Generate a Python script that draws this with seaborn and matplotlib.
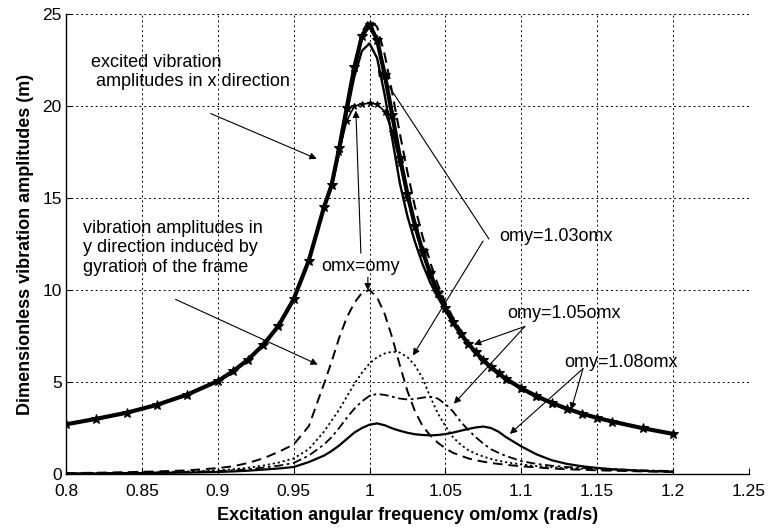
import numpy as np
import pandas as pd
import matplotlib
matplotlib.use("Agg")
import matplotlib.pyplot as plt
import seaborn as sns

# ---------------- data ----------------
freq = [0.80, 0.82, 0.84, 0.86, 0.88, 0.90, 0.91, 0.92, 0.93, 0.94, 0.95, 0.96,
        0.97, 0.975, 0.98, 0.985, 0.99, 0.995, 1.0, 1.005, 1.01, 1.015, 1.02,
        1.025, 1.03, 1.035, 1.04, 1.045, 1.05, 1.055, 1.06, 1.065, 1.07, 1.075,
        1.08, 1.085, 1.09, 1.10, 1.11, 1.12, 1.13, 1.14, 1.15, 1.16, 1.18, 1.20]

# x-direction (excited) amplitudes
x_omx_eq_omy = [2.70, 3.00, 3.33, 3.76, 4.32, 5.05, 5.58, 6.22, 7.02, 8.05, 9.5, 11.6,
                14.5, 15.7, 17.5, 19.2, 20.0, 20.1, 20.15, 20.1, 19.7, 18.6, 16.9,
                15.0, 13.4, 12.0, 10.8, 9.8, 8.95, 8.2, 7.6, 7.05, 6.58, 6.15,
                5.78, 5.44, 5.13, 4.62, 4.19, 3.83, 3.52, 3.26, 3.03, 2.83, 2.48, 2.18]
x_omy_103 = [2.70, 3.00, 3.33, 3.76, 4.32, 5.05, 5.58, 6.22, 7.02, 8.05, 9.5, 11.6,
             14.5, 15.6, 17.5, 19.6, 21.6, 23.0, 23.4, 22.6, 20.6, 18.2, 15.8,
             14.0, 12.6, 11.4, 10.4, 9.6, 8.9, 8.2, 7.6, 7.05, 6.58, 6.15,
             5.78, 5.44, 5.13, 4.62, 4.19, 3.83, 3.52, 3.26, 3.03, 2.83, 2.48, 2.18]
x_omy_105 = [2.70, 3.00, 3.33, 3.76, 4.32, 5.05, 5.58, 6.22, 7.02, 8.05, 9.5, 11.6,
             14.5, 15.7, 17.7, 19.9, 22.2, 24.0, 24.7, 24.3, 22.8, 20.7, 18.5,
             16.4, 14.5, 12.9, 11.5, 10.3, 9.3, 8.5, 7.8, 7.15, 6.63, 6.18,
             5.8, 5.45, 5.14, 4.62, 4.19, 3.83, 3.52, 3.26, 3.03, 2.83, 2.48, 2.18]
x_omy_108 = [2.70, 3.00, 3.33, 3.76, 4.32, 5.05, 5.58, 6.22, 7.02, 8.05, 9.5, 11.6,
             14.5, 15.7, 17.7, 19.9, 22.1, 23.8, 24.4, 23.6, 21.7, 19.5, 17.2,
             15.2, 13.5, 12.1, 10.9, 9.85, 9.0, 8.26, 7.63, 7.09, 6.61, 6.18,
             5.81, 5.47, 5.17, 4.66, 4.23, 3.87, 3.55, 3.28, 3.05, 2.85, 2.49, 2.18]

# y-direction amplitudes induced by gyration
y_omx_eq_omy = [0.05, 0.07, 0.10, 0.14, 0.20, 0.32, 0.42, 0.60, 0.85, 1.2, 1.6, 2.6,
                4.9, 6.1, 7.4, 8.5, 9.3, 9.85, 10.0, 9.6, 8.7, 7.4, 5.9,
                4.5, 3.4, 2.6, 2.1, 1.7, 1.4, 1.15, 1.0, 0.85, 0.75, 0.67,
                0.6, 0.55, 0.5, 0.42, 0.36, 0.3, 0.26, 0.23, 0.2, 0.18, 0.14, 0.12]
y_omy_103 = [0.03, 0.05, 0.07, 0.10, 0.14, 0.20, 0.26, 0.34, 0.46, 0.62, 0.85, 1.35,
             2.3, 2.9, 3.5, 4.2, 4.9, 5.5, 6.0, 6.35, 6.55, 6.65, 6.6,
             6.35, 5.9, 5.2, 4.2, 3.3, 2.6, 2.0, 1.6, 1.3, 1.1, 0.95,
             0.82, 0.72, 0.64, 0.52, 0.43, 0.37, 0.32, 0.28, 0.25, 0.22, 0.18, 0.15]
y_omy_105 = [0.03, 0.04, 0.06, 0.08, 0.11, 0.16, 0.20, 0.26, 0.35, 0.45, 0.6, 1.0,
             1.6, 2.0, 2.5, 3.05, 3.55, 3.95, 4.25, 4.35, 4.3, 4.2, 4.1,
             4.05, 4.08, 4.15, 4.2, 4.1, 3.8, 3.4, 2.85, 2.4, 2.0, 1.65,
             1.35, 1.15, 0.98, 0.7, 0.55, 0.45, 0.38, 0.33, 0.29, 0.26, 0.2, 0.16]
y_omy_108 = [0.02, 0.03, 0.04, 0.06, 0.08, 0.11, 0.14, 0.18, 0.24, 0.30, 0.38, 0.65,
             1.0, 1.25, 1.55, 1.9, 2.25, 2.5, 2.68, 2.75, 2.65, 2.48, 2.35,
             2.24, 2.16, 2.12, 2.1, 2.12, 2.17, 2.25, 2.35, 2.45, 2.53, 2.58,
             2.5, 2.3, 2.0, 1.5, 1.07, 0.75, 0.55, 0.42, 0.33, 0.26, 0.17, 0.12]

x_ticks = [0.8, 0.85, 0.9, 0.95, 1.0, 1.05, 1.1, 1.15, 1.2, 1.25]
x_tick_labels = ["0.8", "0.85", "0.9", "0.95", "1", "1.05", "1.1", "1.15", "1.2", "1.25"]
y_ticks = [0, 5, 10, 15, 20, 25]
y_tick_labels = ["0", "5", "10", "15", "20", "25"]

# ---------------- styling ----------------
sns.set_theme(style="white")
plt.rcParams["font.family"] = ["Liberation Sans", "DejaVu Sans"]
plt.rcParams["font.size"] = 13

fig = plt.figure(figsize=(7.68, 5.32), dpi=100)
ax = fig.add_axes([0.0859, 0.109, 0.8893, 0.8647])

series = [
    (x_omy_108, dict(linestyle="-", linewidth=3.0, marker="*", markersize=7)),
    (x_omx_eq_omy, dict(linestyle="-", linewidth=1.2, marker="*", markersize=5)),
    (x_omy_103, dict(linestyle="-", linewidth=1.7)),
    (x_omy_105, dict(linestyle=(0, (5, 3)), linewidth=1.5)),
    (y_omx_eq_omy, dict(linestyle=(0, (5, 3)), linewidth=1.4)),
    (y_omy_103, dict(linestyle=(0, (1.2, 1.6)), linewidth=1.3)),
    (y_omy_105, dict(linestyle=(0, (5, 2, 1.5, 2)), linewidth=1.3)),
    (y_omy_108, dict(linestyle="-", linewidth=1.6)),
]
for vals, kw in series:
    df = pd.DataFrame({"freq": freq, "amp": vals})
    sns.lineplot(data=df, x="freq", y="amp", ax=ax, color="black",
                 markeredgecolor="black", markerfacecolor="black", **kw)

ax.set_xlim(0.8, 1.25)
ax.set_ylim(0, 25)
ax.set_xticks(x_ticks)
ax.set_xticklabels(x_tick_labels)
ax.set_yticks(y_ticks)
ax.set_yticklabels(y_tick_labels)
ax.tick_params(direction="in", length=4, width=0.8, colors="black", labelsize=12.5,
               bottom=True, left=True)
ax.tick_params(axis="x", pad=7)
ax.tick_params(axis="y", pad=3)
ax.grid(True, color="black", linestyle=(0, (2, 3)), linewidth=0.7)
for s in ["top", "right"]:
    ax.spines[s].set_visible(False)
for s in ["left", "bottom"]:
    ax.spines[s].set_color("black")
    ax.spines[s].set_linewidth(1.0)
ax.set_facecolor("white")

ax.set_xlabel("Excitation angular frequency om/omx (rad/s)", fontsize=13,
              fontweight="bold", labelpad=6, color="black")
ax.set_ylabel("Dimensionless vibration amplitudes (m)", fontsize=13,
              fontweight="bold", labelpad=6, color="black")

# ---------------- annotations ----------------
tkw = dict(fontsize=13, color="black", ha="left", va="center")
ax.text(0.8162, 21.85, "excited vibration\n amplitudes in x direction",
        linespacing=1.2, **tkw)
ax.text(0.8109, 12.3, "vibration amplitudes in\ny direction induced by\ngyration of the frame",
        linespacing=1.2, **tkw)
ax.text(0.9679, 11.27, "omx=omy", **tkw)
ax.text(1.0853, 12.93, "omy=1.03omx", **tkw)
ax.text(1.0906, 8.70, "omy=1.05omx", **tkw)
ax.text(1.1282, 6.08, "omy=1.08omx", **tkw)

akw = dict(arrowstyle="-|>", color="black", lw=0.8, mutation_scale=10,
           shrinkA=0, shrinkB=0)
arrows = [
    ((0.8953, 19.59), (0.9652, 17.13)),
    ((0.8722, 9.49), (0.9659, 5.95)),
    ((0.9943, 12.0), (0.9910, 19.75)),
    ((0.9989, 10.69), (0.9989, 9.98)),
    ((1.0787, 12.77), (1.0055, 21.99)),
    ((1.0748, 12.66), (1.0286, 6.44)),
    ((1.1024, 8.02), (1.0688, 7.04)),
    ((1.1024, 8.02), (1.0556, 3.82)),
    ((1.1407, 5.73), (1.1328, 3.49)),
    ((1.1407, 5.73), (1.0925, 2.18)),
]
for start, end in arrows:
    ax.annotate("", xy=end, xytext=start, arrowprops=akw)

fig.savefig("out.png", dpi=100, facecolor="white")
